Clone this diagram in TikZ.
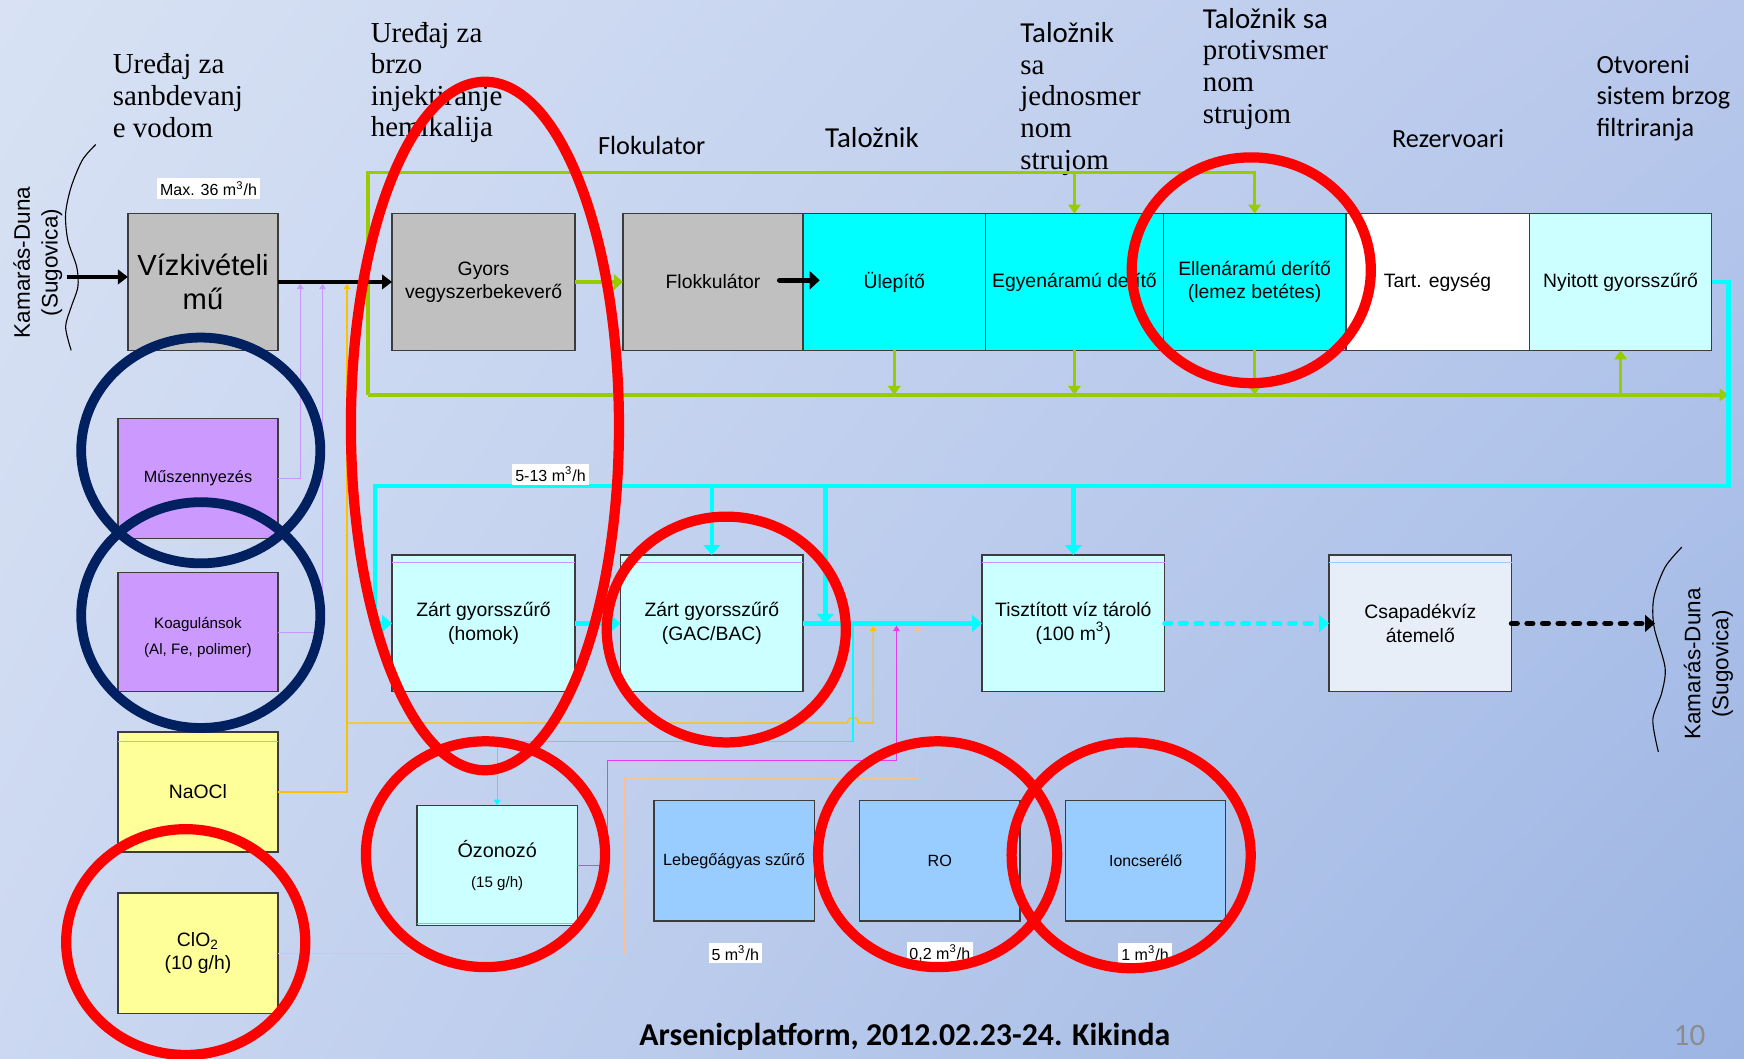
\documentclass[tikz,border=0pt]{standalone}
\usepackage{fontspec}
\setmainfont{Liberation Sans}
\newfontfamily\arial{Liberation Sans}
\newfontfamily\serifr{Liberation Serif}
\newfontfamily\calib{Carlito}
\usetikzlibrary{arrows.meta,shadings}
\definecolor{bgA}{RGB}{216,226,244}
\definecolor{bgB}{RGB}{184,200,236}
\definecolor{bgC}{RGB}{204,216,241}
\definecolor{bgD}{RGB}{156,181,227}
\definecolor{bordc}{RGB}{60,60,60}
\definecolor{boxgray}{RGB}{192,192,192}
\definecolor{cyn}{RGB}{0,255,255}
\definecolor{lcyn}{RGB}{204,255,255}
\definecolor{purp}{RGB}{204,153,255}
\definecolor{ylwbox}{RGB}{255,255,153}
\definecolor{lblue}{RGB}{153,204,255}
\definecolor{csapc}{RGB}{232,238,248}
\definecolor{grn}{RGB}{153,204,0}
\definecolor{lil}{RGB}{200,150,255}
\definecolor{ylw}{RGB}{255,192,0}
\definecolor{mag}{RGB}{230,60,240}
\definecolor{pch}{RGB}{250,192,144}
\definecolor{navy}{RGB}{0,32,96}
\definecolor{pgnum}{RGB}{140,140,140}
\begin{document}
\begin{tikzpicture}[x=0.5pt,y=-0.5pt,
  box/.style={draw=bordc, line width=0.6pt, inner sep=0pt, outer sep=0pt, align=center,
    font=\arial\fontsize{8.7pt}{10.5pt}\selectfont},
  sz/.style 2 args={minimum width={#1*0.5pt}, minimum height={#2*0.5pt}},
  ttl/.style={anchor=north west, inner sep=0pt, align=left, font=\serifr\fontsize{13pt}{14.2pt}\selectfont},
  cal/.style={anchor=base, inner sep=0pt, font=\calib\fontsize{11.8pt}{14.2pt}\selectfont},
  lbl/.style={fill=white, inner sep=1.3pt, font=\arial\fontsize{7.2pt}{8pt}\selectfont},
  gline/.style={draw=grn, line width=1.5pt},
  gtip/.style={-{Triangle[length=4pt,width=5.5pt]}},
  cmain/.style={draw=cyn, line width=2pt},
  ctip/.style={-{Triangle[length=4.5pt,width=7.5pt]}},
  thinl/.style={line width=0.55pt},
  ttip/.style={-{Triangle[length=2.5pt,width=3pt]}},
  redc/.style={draw=red, line width=4.6pt},
  navc/.style={draw=navy, line width=4.4pt},
  rot/.style={rotate=90, align=center, inner sep=0pt, font=\arial\fontsize{10.1pt}{12.5pt}\selectfont}
]
\useasboundingbox (0,0) rectangle (1568,952);
\shade[upper left=bgA, upper right=bgB, lower left=bgC, lower right=bgD] (0,0) rectangle (1568,952);

% ---------- titles ----------
\node[ttl] (t1) at (101,48) {Uređaj za\\sanbdevanj\\e vodom};
\node[ttl] (t2) at (333,19.5) {Uređaj za\\brzo\\injektiranje\\hemikalija};
\node[cal] (t3) at (586,138.5) {Flokulator};
\node[cal, font=\calib\fontsize{13pt}{14.2pt}\selectfont] (t4) at (784,132.8) {Taložnik};
\node[ttl] (t5) at (917,20) {{\calib Taložnik}\\sa\\jednosmer\\nom\\strujom};
\node[ttl] (t6) at (1081,7) {{\calib Taložnik sa}\\protivsmer\\nom\\strujom};
\node[cal] (t7) at (1302,132.8) {Rezervoari};
\node[ttl, font=\calib\fontsize{11.8pt}{14.2pt}\selectfont] (t8) at (1435,49) {Otvoreni\\sistem brzog\\filtriranja};

% ---------- river labels ----------
\node[rot] (kdl) at (34,236) {Kamarás-Duna\\(Sugovica)};
\node[rot] (kdr) at (1536,597) {Kamarás-Duna\\(Sugovica)};
\draw[line width=0.5pt] plot[smooth] coordinates {(86,130) (74,144) (64,168) (59,192) (61,216) (69,240) (70,258) (64,276) (59,294) (64,315)};
\draw[line width=0.5pt] plot[smooth] coordinates {(1512,492) (1497,510) (1487,537) (1487,563) (1497,600) (1494,623) (1486,647) (1491,676)};

% ---------- top row ----------
\node[box, fill=boxgray, sz={135}{123}, font=\arial\fontsize{13.1pt}{15pt}\selectfont] (viz) at (182.5,253.5) {Vízkivételi\\mű};
\node[box, fill=boxgray, sz={164.5}{123}] (gyors) at (434.75,253.5) {Gyors\\vegyszerbekeverő};
\node[box, fill=boxgray, sz={162}{123}] (flok) at (641,253.5) {Flokkulátor};
\node[box, fill=cyn, sz={164}{123}] (ulep) at (804,253.5) {Ülepítő};
\node[box, fill=cyn, sz={160}{123}] (egyen) at (966,253.5) {Egyenáramú derítő};
\node[box, fill=cyn, sz={164}{123}] (ellen) at (1128,253.5) {Ellenáramú derítő\\(lemez betétes)};
\node[box, fill=white, sz={165}{123}] (tart) at (1292.5,253.5) {Tart. egység};
\node[box, fill=lcyn, sz={164}{123}] (nyit) at (1457,253.5) {Nyitott gyorsszűrő};
\node[lbl] (lmax) at (187.5,169.5) {Max. 36 m\textsuperscript{3}/h};

% ---------- left column ----------
\node[box, fill=purp, sz={144}{108}, font=\arial\fontsize{7.3pt}{9pt}\selectfont] (mus) at (178,430) {Műszennyezés};
\node[box, fill=purp, sz={144}{107}, font=\arial\fontsize{6.8pt}{11.5pt}\selectfont] (koag) at (178,568.5) {\rule{0pt}{9.5pt}Koagulánsok\\(Al, Fe, polimer)};
\node[box, fill=ylwbox, sz={144}{108}] (naocl) at (178,712) {NaOCl};
\node[box, fill=ylwbox, sz={144}{108}] (clo) at (178,857) {ClO\textsubscript{2}\\(10 g/h)};

% ---------- bottom row ----------
\node[box, fill=lcyn, sz={164.5}{123}] (zh) at (434.75,560.5) {Zárt gyorsszűrő\\(homok)};
\node[box, fill=lcyn, sz={164}{123}] (zg) at (640,560.5) {Zárt gyorsszűrő\\(GAC/BAC)};
\node[box, fill=lcyn, sz={164}{123}] (tisz) at (965,560.5) {Tisztított víz tároló\\(100 m\textsuperscript{3})};
\node[box, fill=csapc, sz={164}{123}] (csap) at (1277,560.5) {Csapadékvíz\\átemelő};
\foreach \n in {zh,zg,tisz} \draw[lil, line width=0.4pt] ([yshift=-3.5pt]\n.north west) -- ([yshift=-3.5pt]\n.north east);
\draw[lblue, line width=0.4pt] ([yshift=-3.5pt]csap.north west) -- ([yshift=-3.5pt]csap.north east);
\draw[lblue!70!lil, line width=0.4pt] ([yshift=-4.5pt]naocl.north west) -- ([yshift=-4.5pt]naocl.north east);

\node[box, fill=lcyn, sz={144}{108}, font=\arial\fontsize{6.8pt}{13.5pt}\selectfont] (ozon) at (447,778) {{\fontsize{8.9pt}{13.5pt}\selectfont Ózonozó}\\(15 g/h)};
\draw[lil, line width=0.4pt] ([yshift=1pt]ozon.south west) -- ([yshift=1pt]ozon.south east);
\node[box, fill=lblue, sz={144}{108}, font=\arial\fontsize{7.3pt}{9pt}\selectfont] (lebeg) at (660,774) {Lebegőágyas szűrő};
\node[box, fill=lblue, sz={144}{108}, font=\arial\fontsize{7.3pt}{9pt}\selectfont] (ro) at (845,774) {RO};
\node[box, fill=lblue, sz={144}{108}, font=\arial\fontsize{7.1pt}{9pt}\selectfont] (ion) at (1030,774) {Ioncserélő};
\node[lbl] (l5) at (661,857) {5 m\textsuperscript{3}/h};
\node[lbl] (l02) at (845,857) {0,2 m\textsuperscript{3}/h};
\node[lbl] (l1) at (1029.5,857) {1 m\textsuperscript{3}/h};

% ---------- coordinates ----------
\coordinate (lin) at (60,249);
\coordinate (gA) at (331,155);
\coordinate (gB) at (331,355);
\coordinate (gE) at (1554,355);
\coordinate (fa) at (701,252);
\coordinate (fb) at (737,252);
\coordinate (cR) at (1554,437);
\coordinate (cL) at (337,437);
\coordinate (cb) at (742,437);
\coordinate (cbe) at (742,561);
\coordinate (rout) at (1488,560.5);
\coordinate (j1) at (270,255);
\coordinate (j2) at (290,255);
\coordinate (j3) at (312,255);
\coordinate (y1) at (312,650);
\coordinate (y2) at (785,562.5);
\coordinate (c1) at (767,561);
\coordinate (c2) at (767,667);
\coordinate (m1) at (546,684);
\coordinate (m2) at (806,562.5);
\coordinate (p1) at (562,700);
\coordinate (p2) at (825,562.5);

% ---------- green lines ----------
\draw[gline] (gB) -- (gA) -- (gA -| egyen.north);
\draw[gline, gtip] (gA -| egyen.north) -| (ellen.north);
\draw[gline, gtip] (gA -| egyen.north) -- (egyen.north);
\draw[gline, gtip] (gB) -- (gE);
\draw[gline, gtip] (ulep.south) -- (ulep.south |- gB);
\draw[gline, gtip] (egyen.south) -- (egyen.south |- gB);
\draw[gline, gtip] (ellen.south) -- (ellen.south |- gB);
\draw[gline, gtip] (nyit.south |- gB) -- (nyit.south);
\draw[draw=grn, line width=2.2pt, -{Triangle[length=4pt,width=7pt]}] (gyors.east) -- (flok.west);

% ---------- black arrows ----------
\draw[line width=1.5pt, -{Triangle[length=4.5pt,width=6.5pt]}] (lin) -- (lin -| viz.west);
\draw[line width=1.5pt, -{Triangle[length=4.5pt,width=6.5pt]}] (viz.east) -- (gyors.west);
\draw[line width=2.5pt, line cap=round, -{Triangle[length=4.5pt,width=8pt]}] (fa) -- (fb);

% ---------- cyan main ----------
\draw[cmain, ctip] (nyit.east) -| (cR) -- (cL) |- (zh.west);
\draw[cmain, ctip] (zg.north |- cL) -- (zg.north);
\draw[cmain, ctip] (cb) -- (cbe);
\draw[cmain, ctip] (tisz.north |- cL) -- (tisz.north);
\draw[cmain, ctip] (zh.east) -- (zg.west);
\draw[cmain, ctip] (zg.east) -- (tisz.west);
\draw[cmain, line cap=round, dash pattern=on 3pt off 4pt, -{Triangle[length=4.5pt,width=7.5pt]}] (tisz.east) -- (csap.west);
\draw[line width=2.5pt, line cap=round, dash pattern=on 2.5pt off 4.5pt, -{Triangle[length=4.5pt,width=7.5pt]}] (csap.east) -- (rout);
\node[lbl] (l513) at (495,426.5) {5-13 m\textsuperscript{3}/h};

% ---------- thin feed lines ----------
\draw[lil, thinl, ttip] (mus.east) -| (j1);
\draw[lil, thinl, ttip] (koag.east) -| (j2);
\draw[ylw, thinl, ttip] (naocl.east) -| (j3);
\draw[ylw, thinl, ttip] (y1) -- (762,650) .. controls (762,643) and (772,643) .. (772,650) -| (y2);
\draw[cyn, thinl, ttip] (c1) -- (c2) -| (ozon.north);
\draw[mag, thinl, ttip] (ozon.east) -| (m1) -| (m2);
\draw[pch, thinl, ttip] (clo.east) -| (p1) -| (p2);

% ---------- footer ----------
\node[anchor=base, inner sep=0pt, font=\calib\bfseries\fontsize{14.3pt}{16pt}\selectfont] (foot) at (813.5,940) {Arsenicplatform, 2012.02.23-24. Kikinda};
\node[anchor=base, inner sep=0pt, text=pgnum, font=\calib\fontsize{14pt}{16pt}\selectfont] (pg) at (1519,940) {10};

% ---------- highlight ellipses ----------
\draw[navc] (180.5,405) ellipse[x radius=53.75pt, y radius=50.75pt];
\draw[navc] (180.5,553) ellipse[x radius=53.75pt, y radius=50.75pt];
\draw[redc] (436,383) ellipse[x radius=60.25pt, y radius=154.75pt];
\draw[redc] (1125,243) ellipse[x radius=53.75pt, y radius=50.75pt];
\draw[redc] (653,566) ellipse[x radius=53.75pt, y radius=50.75pt];
\draw[redc] (436.5,768) ellipse[x radius=53.75pt, y radius=50.75pt];
\draw[redc] (167,847) ellipse[x radius=53.75pt, y radius=50.75pt];
\draw[redc] (843,768) ellipse[x radius=53.75pt, y radius=50.75pt];
\draw[redc] (1017,769) ellipse[x radius=53.75pt, y radius=50.75pt];
\end{tikzpicture}
\end{document}
